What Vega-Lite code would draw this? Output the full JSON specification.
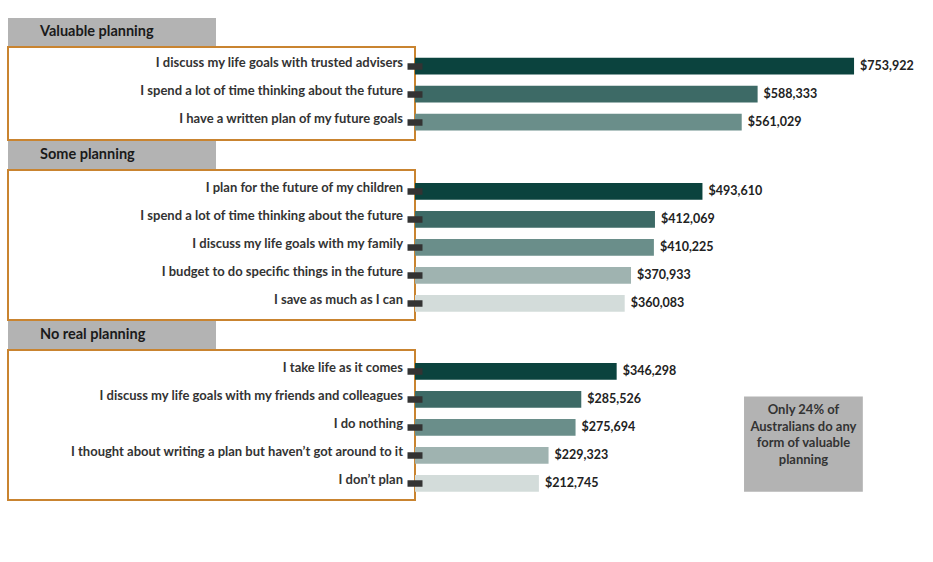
{
  "$schema": "https://vega.github.io/schema/vega-lite/v6.json",
  "background": "white",
  "padding": {"left": 7, "top": 18, "right": 5, "bottom": 5},
  "autosize": {"type": "pad"},
  "config": {"view": {"stroke": null}, "font": "Lato"},
  "datasets": {
    "rows": [
      {"group": "Valuable planning", "statement": "I discuss my life goals with trusted advisers", "amount": 753922},
      {"group": "Valuable planning", "statement": "I spend a lot of time thinking about the future", "amount": 588333},
      {"group": "Valuable planning", "statement": "I have a written plan of my future goals", "amount": 561029},
      {"group": "Some planning", "statement": "I plan for the future of my children", "amount": 493610},
      {"group": "Some planning", "statement": "I spend a lot of time thinking about the future", "amount": 412069},
      {"group": "Some planning", "statement": "I discuss my life goals with my family", "amount": 410225},
      {"group": "Some planning", "statement": "I budget to do specific things in the future", "amount": 370933},
      {"group": "Some planning", "statement": "I save as much as I can", "amount": 360083},
      {"group": "No real planning", "statement": "I take life as it comes", "amount": 346298},
      {"group": "No real planning", "statement": "I discuss my life goals with my friends and colleagues", "amount": 285526},
      {"group": "No real planning", "statement": "I do nothing", "amount": 275694},
      {"group": "No real planning", "statement": "I thought about writing a plan but haven’t got around to it", "amount": 229323},
      {"group": "No real planning", "statement": "I don’t plan", "amount": 212745}
    ]
  },
  "spacing": 0,
  "vconcat": [
    {
      "width": 208, "height": 28,
      "view": {"fill": "#b3b3b3", "stroke": null},
      "data": {"name": "rows"},
      "transform": [{"filter": "datum.group === 'Valuable planning'"}, {"aggregate": [{"op": "count", "as": "n"}], "groupby": ["group"]}],
      "mark": {"type": "text", "align": "left", "dx": 32, "fontSize": 14.5, "fontWeight": "bold", "color": "#1a1a1a"},
      "encoding": {"x": {"value": 0}, "text": {"field": "group"}}
    },
    {
      "hconcat": [
        {
          "width": 407, "height": 93,
          "view": {"stroke": "#c98430", "strokeWidth": 2, "fill": "white"},
          "data": {"name": "rows"},
          "transform": [{"filter": "datum.group === 'Valuable planning'"}],
          "mark": {"type": "text", "align": "right", "dx": -12, "dy": -3, "fontSize": 13, "fontWeight": "bold", "color": "#333333"},
          "encoding": {
            "x": {"value": "width"},
            "y": {"field": "statement", "type": "nominal", "sort": null, "axis": null, "scale": {"type": "band", "paddingInner": 0.4, "paddingOuter": 0.36, "align": 0.53}},
            "text": {"field": "statement"}
          }
        },
        {
          "width": 495, "height": 93,
          "data": {"name": "rows"},
          "transform": [{"filter": "datum.group === 'Valuable planning'"}, {"window": [{"op": "row_number", "as": "rank"}]}],
          "encoding": {
            "y": {"field": "statement", "type": "nominal", "sort": null, "scale": {"type": "band", "paddingInner": 0.4, "paddingOuter": 0.36, "align": 0.53},
              "axis": {"title": null, "labels": false, "domain": false, "ticks": true, "tickSize": 15, "tickWidth": 6.5, "tickColor": "#333333", "offset": -7, "zindex": 1}}
          },
          "layer": [
            {
              "mark": {"type": "bar"},
              "encoding": {
                "x": {"field": "amount", "type": "quantitative", "scale": {"domain": [0, 850000]}, "axis": null},
                "color": {"field": "rank", "type": "ordinal", "scale": {"domain": [1, 2, 3, 4, 5], "range": ["#0b433e", "#3d6a66", "#6a8e8a", "#9fb3b0", "#d3dcda"]}, "legend": null}
              }
            },
            {
              "mark": {"type": "text", "align": "left", "dx": 6, "fontSize": 12.5, "fontWeight": "bold", "color": "#222222"},
              "encoding": {
                "x": {"field": "amount", "type": "quantitative", "scale": {"domain": [0, 850000]}},
                "text": {"field": "amount", "type": "quantitative", "format": "$,.0f"}
              }
            }
          ]
        }
      ],
      "spacing": 0,
      "bounds": "flush"
    },
    {
      "width": 208, "height": 28,
      "view": {"fill": "#b3b3b3", "stroke": null},
      "data": {"name": "rows"},
      "transform": [{"filter": "datum.group === 'Some planning'"}, {"aggregate": [{"op": "count", "as": "n"}], "groupby": ["group"]}],
      "mark": {"type": "text", "align": "left", "dx": 32, "fontSize": 14.5, "fontWeight": "bold", "color": "#1a1a1a"},
      "encoding": {"x": {"value": 0}, "text": {"field": "group"}}
    },
    {
      "hconcat": [
        {
          "width": 407, "height": 150,
          "view": {"stroke": "#c98430", "strokeWidth": 2, "fill": "white"},
          "data": {"name": "rows"},
          "transform": [{"filter": "datum.group === 'Some planning'"}],
          "mark": {"type": "text", "align": "right", "dx": -12, "dy": -3, "fontSize": 13, "fontWeight": "bold", "color": "#333333"},
          "encoding": {
            "x": {"value": "width"},
            "y": {"field": "statement", "type": "nominal", "sort": null, "axis": null, "scale": {"type": "band", "paddingInner": 0.4, "paddingOuter": 0.38, "align": 0.61}},
            "text": {"field": "statement"}
          }
        },
        {
          "width": 495, "height": 150,
          "data": {"name": "rows"},
          "transform": [{"filter": "datum.group === 'Some planning'"}, {"window": [{"op": "row_number", "as": "rank"}]}],
          "encoding": {
            "y": {"field": "statement", "type": "nominal", "sort": null, "scale": {"type": "band", "paddingInner": 0.4, "paddingOuter": 0.38, "align": 0.61},
              "axis": {"title": null, "labels": false, "domain": false, "ticks": true, "tickSize": 15, "tickWidth": 6.5, "tickColor": "#333333", "offset": -7, "zindex": 1}}
          },
          "layer": [
            {
              "mark": {"type": "bar"},
              "encoding": {
                "x": {"field": "amount", "type": "quantitative", "scale": {"domain": [0, 850000]}, "axis": null},
                "color": {"field": "rank", "type": "ordinal", "scale": {"domain": [1, 2, 3, 4, 5], "range": ["#0b433e", "#3d6a66", "#6a8e8a", "#9fb3b0", "#d3dcda"]}, "legend": null}
              }
            },
            {
              "mark": {"type": "text", "align": "left", "dx": 6, "fontSize": 12.5, "fontWeight": "bold", "color": "#222222"},
              "encoding": {
                "x": {"field": "amount", "type": "quantitative", "scale": {"domain": [0, 850000]}},
                "text": {"field": "amount", "type": "quantitative", "format": "$,.0f"}
              }
            }
          ]
        }
      ],
      "spacing": 0,
      "bounds": "flush"
    },
    {
      "width": 208, "height": 28,
      "view": {"fill": "#b3b3b3", "stroke": null},
      "data": {"name": "rows"},
      "transform": [{"filter": "datum.group === 'No real planning'"}, {"aggregate": [{"op": "count", "as": "n"}], "groupby": ["group"]}],
      "mark": {"type": "text", "align": "left", "dx": 32, "fontSize": 14.5, "fontWeight": "bold", "color": "#1a1a1a"},
      "encoding": {"x": {"value": 0}, "text": {"field": "group"}}
    },
    {
      "hconcat": [
        {
          "width": 407, "height": 150,
          "view": {"stroke": "#c98430", "strokeWidth": 2, "fill": "white"},
          "data": {"name": "rows"},
          "transform": [{"filter": "datum.group === 'No real planning'"}],
          "mark": {"type": "text", "align": "right", "dx": -12, "dy": -3, "fontSize": 13, "fontWeight": "bold", "color": "#333333"},
          "encoding": {
            "x": {"value": "width"},
            "y": {"field": "statement", "type": "nominal", "sort": null, "axis": null, "scale": {"type": "band", "paddingInner": 0.4, "paddingOuter": 0.38, "align": 0.61}},
            "text": {"field": "statement"}
          }
        },
        {
          "width": 495, "height": 150,
          "resolve": {"scale": {"y": "independent"}, "axis": {"y": "independent"}},
          "layer": [
            {
              "data": {"name": "rows"},
              "transform": [{"filter": "datum.group === 'No real planning'"}, {"window": [{"op": "row_number", "as": "rank"}]}],
              "encoding": {
                "y": {"field": "statement", "type": "nominal", "sort": null, "scale": {"type": "band", "paddingInner": 0.4, "paddingOuter": 0.38, "align": 0.61},
                  "axis": {"title": null, "labels": false, "domain": false, "ticks": true, "tickSize": 15, "tickWidth": 6.5, "tickColor": "#333333", "offset": -7, "zindex": 1}}
              },
              "layer": [
                {
                  "mark": {"type": "bar"},
                  "encoding": {
                    "x": {"field": "amount", "type": "quantitative", "scale": {"domain": [0, 850000]}, "axis": null},
                    "color": {"field": "rank", "type": "ordinal", "scale": {"domain": [1, 2, 3, 4, 5], "range": ["#0b433e", "#3d6a66", "#6a8e8a", "#9fb3b0", "#d3dcda"]}, "legend": null}
                  }
                },
                {
                  "mark": {"type": "text", "align": "left", "dx": 6, "fontSize": 12.5, "fontWeight": "bold", "color": "#222222"},
                  "encoding": {
                    "x": {"field": "amount", "type": "quantitative", "scale": {"domain": [0, 850000]}},
                    "text": {"field": "amount", "type": "quantitative", "format": "$,.0f"}
                  }
                }
              ]
            },
            {
              "data": {"values": [{"note": "Only 24% of Australians do any form of valuable planning"}]},
              "layer": [
                {
                  "mark": {"type": "rect", "color": "#b3b3b3"},
                  "encoding": {
                    "x": {"datum": 565000, "type": "quantitative", "scale": {"domain": [0, 850000]}},
                    "x2": {"datum": 769000},
                    "y": {"datum": 0.31, "type": "quantitative", "scale": {"domain": [0, 1], "reverse": true}, "axis": null},
                    "y2": {"datum": 0.945}
                  }
                },
                {
                  "mark": {"type": "text", "align": "center", "baseline": "middle", "fontSize": 13, "fontWeight": "bold", "color": "#333333", "lineHeight": 16.7},
                  "encoding": {
                    "x": {"datum": 667000, "type": "quantitative", "scale": {"domain": [0, 850000]}},
                    "y": {"datum": 0.4, "type": "quantitative"},
                    "text": {"value": ["Only 24% of", "Australians do any", "form of valuable", "planning"]}
                  }
                }
              ]
            }
          ]
        }
      ],
      "spacing": 0,
      "bounds": "flush"
    }
  ]
}
